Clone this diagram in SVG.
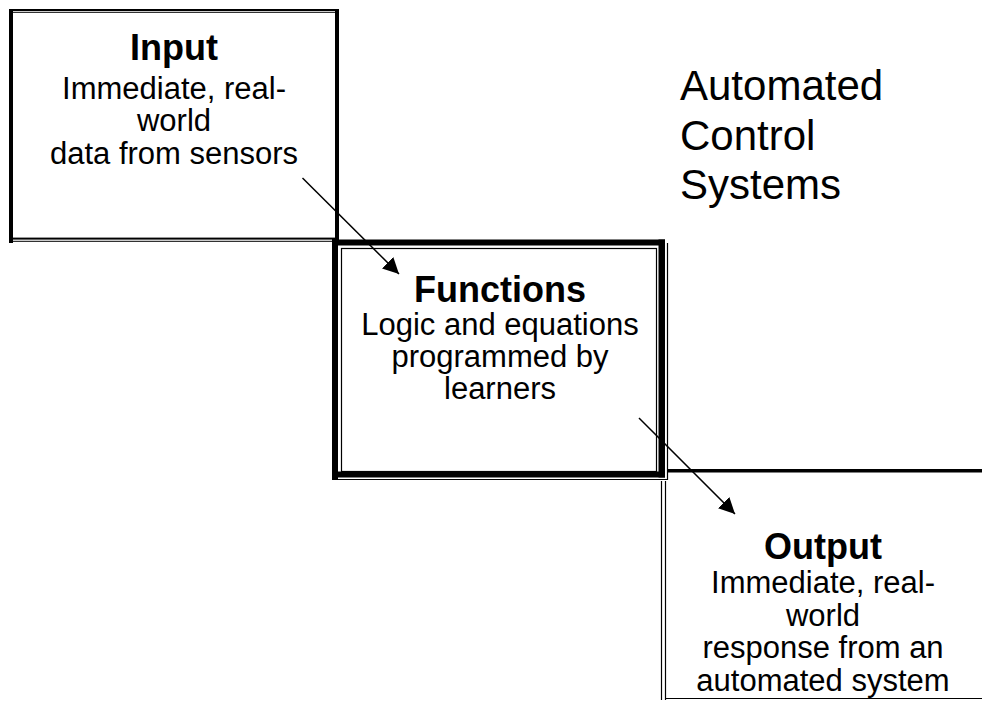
<svg xmlns="http://www.w3.org/2000/svg" width="982" height="701" viewBox="0 0 982 701">
<style>
.t{font-family:"Liberation Sans",Arial,sans-serif;font-weight:bold;font-size:36px;text-anchor:middle;fill:#000}
.b{font-family:"Liberation Sans",Arial,sans-serif;font-size:31px;text-anchor:middle;fill:#000}
.h{font-family:"Liberation Sans",Arial,sans-serif;font-size:42px;fill:#000}
.k{fill:#000}
.thin{fill:none;stroke:#000;stroke-width:1.2}
.con{fill:none;stroke:#000;stroke-width:1.5}
</style>
<defs>
<marker id="ah" viewBox="0 0 10 10" refX="10" refY="5" markerWidth="16" markerHeight="16" markerUnits="userSpaceOnUse" orient="auto">
<path d="M0,0 L10,5 L0,10 z" fill="#000"/>
</marker>
</defs>
<rect width="982" height="701" fill="#fff"/>
<g id="input">
<rect class="k" x="9" y="9" width="330" height="2"/>
<rect class="k" x="13" y="11.8" width="322" height="1"/>
<rect class="k" x="9" y="9" width="4" height="234"/>
<rect class="k" x="335" y="9" width="4" height="232"/>
<rect class="k" x="13" y="237.6" width="322" height="2"/>
<rect class="k" x="13" y="240.8" width="322" height="1"/>
<text class="t" x="174" y="60">Input</text>
<text class="b" x="174" y="99">Immediate, real-</text>
<text class="b" x="174" y="131">world</text>
<text class="b" x="174" y="164">data from sensors</text>
</g>
<g id="functions">
<rect class="k" x="332" y="238" width="6" height="242"/>
<rect class="k" x="332" y="239.5" width="333" height="6"/>
<rect class="k" x="658.5" y="239.5" width="6.5" height="238"/>
<rect class="k" x="332" y="471.5" width="333" height="6"/>
<rect class="thin" x="341.5" y="248.5" width="315" height="223"/>
<line class="thin" x1="667.5" y1="243" x2="667.5" y2="480"/>
<line class="thin" x1="338" y1="479.5" x2="668" y2="479.5"/>
<text class="t" x="500" y="302">Functions</text>
<text class="b" x="500" y="335">Logic and equations</text>
<text class="b" x="500" y="367">programmed by</text>
<text class="b" x="500" y="399">learners</text>
</g>
<g id="output">
<rect class="k" x="668" y="469" width="314" height="3.5"/>
<line class="thin" x1="661.5" y1="481" x2="661.5" y2="700"/>
<line class="thin" x1="665.5" y1="481" x2="665.5" y2="700"/>
<line class="thin" x1="665" y1="698.5" x2="982" y2="698.5"/>
<text class="t" x="823" y="559">Output</text>
<text class="b" x="823" y="593">Immediate, real-</text>
<text class="b" x="823" y="626">world</text>
<text class="b" x="823" y="658">response from an</text>
<text class="b" x="823" y="691">automated system</text>
</g>
<g id="title">
<text class="h" x="680" y="100">Automated</text>
<text class="h" x="680" y="150">Control</text>
<text class="h" x="680" y="199">Systems</text>
</g>
<g id="connectors">
<line class="con" x1="302.5" y1="178" x2="399" y2="274" marker-end="url(#ah)"/>
<line class="con" x1="639" y1="418" x2="735" y2="514" marker-end="url(#ah)"/>
</g>
</svg>
